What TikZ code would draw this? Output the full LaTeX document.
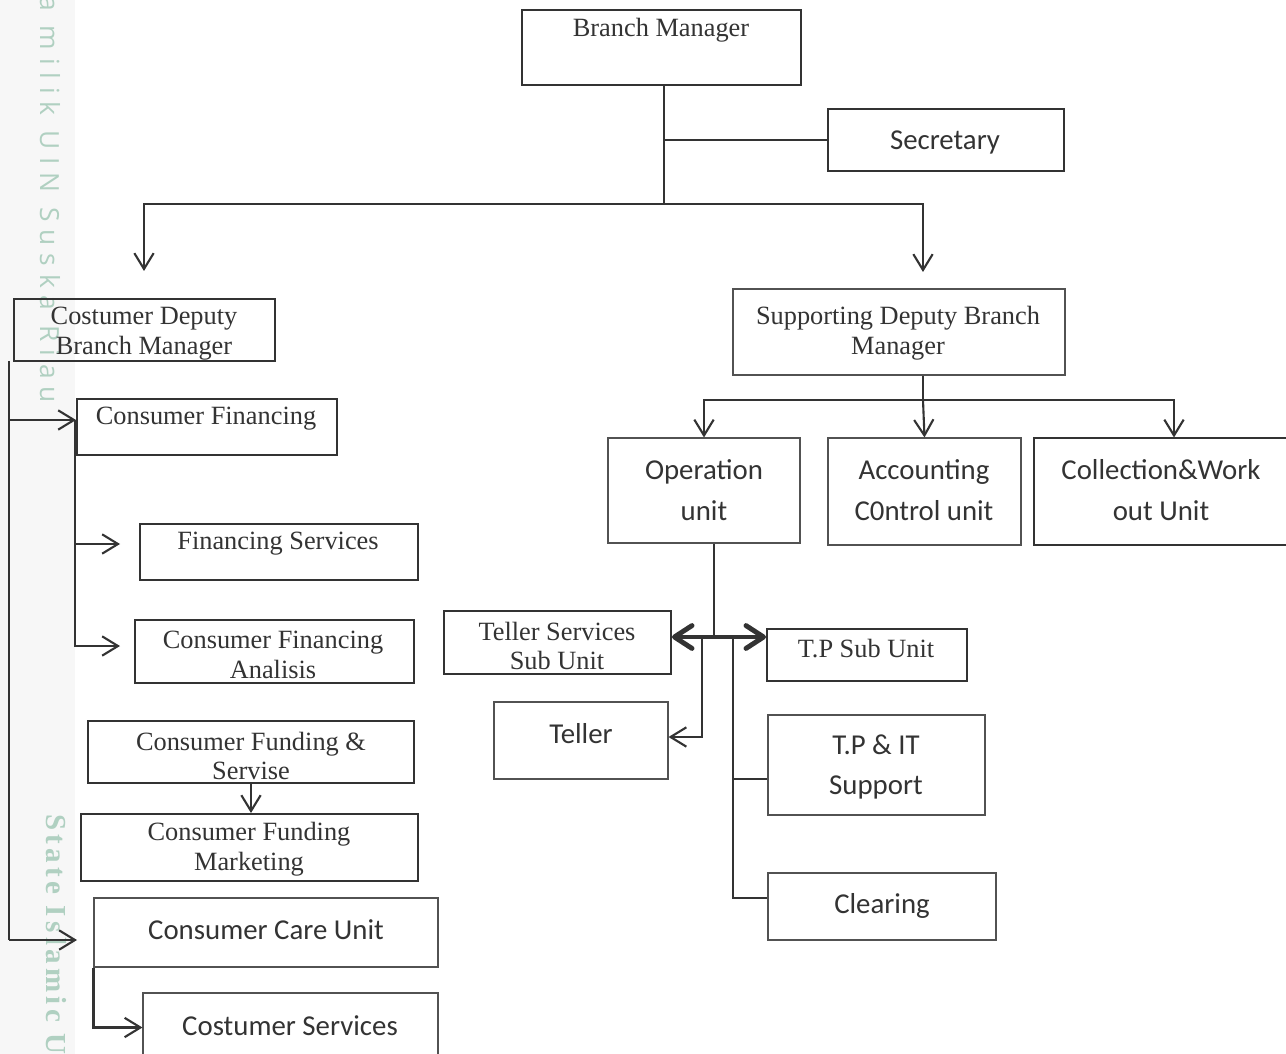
\documentclass[tikz,border=0pt]{standalone}
\usepackage{fontspec}
\setmainfont{Liberation Serif}
\newfontfamily\calibri{Carlito}
\newfontfamily\wmsans[LetterSpace=30]{Open Sans}
\newfontfamily\wmserif[LetterSpace=15]{Liberation Serif}
\usetikzlibrary{arrows.meta,fit}
\definecolor{ink}{HTML}{333333}
\definecolor{wmark}{RGB}{176,208,193}

\begin{document}
\begin{tikzpicture}[x=0.02cm,y=-0.02cm,
    box/.style={draw=ink,line width=1.1pt,inner sep=0pt},
    lbox/.style={draw=ink!85,line width=0.6pt,inner sep=0pt},
    tm/.style={text=ink,font=\fontsize{15}{17}\selectfont,align=center,inner sep=0pt,yshift=-1.7pt},
    cb/.style={text=ink,font=\calibri\fontsize{16.4}{23.2}\selectfont,align=center,inner sep=0pt,yshift=-1.7pt},
    conn/.style={draw=ink,line width=1.2pt},
    arr/.style={conn,-{Straight Barb[length=9pt,width=11pt]}},
    dbl/.style={draw=ink,line width=2.8pt,line cap=round,{Straight Barb[length=10pt,width=13pt,round]}-{Straight Barb[length=10pt,width=13pt,round]}}]
    \fill[white] (0,0) rectangle (1286,1054);
    \useasboundingbox (0,0) rectangle (1286,1054);

    % watermark along the left edge
    \fill[black!3] (0,0) rectangle (75,1054);
    \node[rotate=-90,anchor=west,text=wmark,font=\wmsans\fontsize{15}{17}\selectfont] (wm1) at (50,-10) {a milik UIN Suska Riau};
    \node[rotate=-90,anchor=west,text=wmark,font=\wmserif\fontsize{16.5}{18}\selectfont\bfseries] (wm2) at (56,808) {State Islamic U};

    % boxes
    \node[box,fit={(522,10) (801,85)}] (bm) {};
    \node[lbox,draw=ink,fit={(828,109) (1064,171)}] (sec) {};
    \node[box,fit={(14,299) (275,361)}] (cdbm) {};
    \node[lbox,fit={(733,289) (1065,375)}] (sdbm) {};
    \node[lbox,fit={(608,438) (800,543)}] (op) {};
    \node[lbox,fit={(828,438) (1021,545)}] (acc) {};
    \node[lbox,draw=ink,fit={(1034,438) (1314,545)}] (col) {};

    \node[box,fit={(77,399) (337,455)}] (cf) {};
    \node[box,fit={(140,524) (418,580)}] (fs) {};
    \node[box,fit={(135,620) (414,683)}] (cfa) {};
    \node[box,fit={(88,721) (414,783)}] (cfs) {};
    \node[box,fit={(81,814) (418,881)}] (cfm) {};
    \node[lbox,fit={(94,898) (438,967)}] (ccu) {};
    \node[lbox,fit={(143,993) (438,1062)}] (cs) {};

    \node[box,fit={(444,611) (671,674)}] (tss) {};
    \node[box,fit={(767,629) (967,681)}] (tpsu) {};
    \node[lbox,fit={(494,702) (668,779)}] (tel) {};
    \node[lbox,fit={(768,715) (985,815)}] (tpit) {};
    \node[lbox,fit={(768,873) (996,940)}] (clr) {};

    % labels
    \node[tm] (bm-t) at (661,27) {Branch Manager};
    \node[cb] (sec-t) at (945,139) {Secretary};
    \node[tm] (cdbm-t) at (144,331) {Costumer Deputy\\Branch Manager};
    \node[tm] (sdbm-t) at (898,330) {Supporting Deputy Branch\\Manager};
    \node[cb] (op-t) at (704,487) {Operation\\unit};
    \node[cb] (acc-t) at (924,487) {Accounting\\C0ntrol unit};
    \node[cb] (col-t) at (1161,487) {Collection\&Work\\out Unit};
    \node[tm] (cf-t) at (206,416) {Consumer Financing};
    \node[tm] (fs-t) at (278,541) {Financing Services};
    \node[tm] (cfa-t) at (273,652) {Consumer Financing\\Analisis};
    \node[tm] (cfs-t) at (251,753) {Consumer Funding \&\\Servise};
    \node[tm] (cfm-t) at (249,846) {Consumer Funding\\Marketing};
    \node[cb] (ccu-t) at (266,927) {Consumer Care Unit};
    \node[cb] (cs-t) at (290,1023) {Costumer Services};
    \node[tm] (tss-t) at (557,643) {Teller Services\\Sub Unit};
    \node[tm] (tpsu-t) at (866,646) {T.P Sub Unit};
    \node[cb] (tel-t) at (581,731) {Teller};
    \node[cb] (tpit-t) at (876,764) {T.P \& IT\\Support};
    \node[cb] (clr-t) at (882,903) {Clearing};

    % free ends and joints
    \coordinate (bmJ) at (664,204);
    \coordinate (bmL) at (144,271);
    \coordinate (bmR) at (923,272);
    \coordinate (spine) at (9,361);
    \coordinate (cfL) at (75,420);
    \coordinate (fsIn) at (120,544);
    \coordinate (cfaIn) at (120,646);
    \coordinate (ccuIn) at (77,940);
    \coordinate (opJ) at (714,637);
    \coordinate (telJ) at (702,637);
    \coordinate (tpJ) at (733,637);

    % top level
    \draw[conn] (bmJ |- bm.south) -- (bmJ);
    \draw[conn] (bmJ |- sec.west) -- (sec.west);
    \draw[arr] (bmJ) -| (bmL);
    \draw[arr] (bmJ) -| (bmR);

    % consumer side
    \draw[conn] (spine) -- (spine |- ccuIn);
    \draw[arr] (spine |- cfL) -- (cf.west |- cfL);
    \draw[arr] (spine |- ccuIn) -- (ccuIn);
    \draw[arr] (cfL) |- (fsIn);
    \draw[arr] (cfL) |- (cfaIn);
    \draw[arr] (cfs.south) -- (cfs.south |- cfm.north);
    \draw[arr] (ccu.south west) |- (cs.west);

    % supporting side
    \draw[conn] (sdbm.south -| bmR) -- (bmR |- 0,400);
    \draw[arr] (bmR |- 0,400) -| (op.north);
    \draw[arr] (bmR |- 0,400) -- (acc.north |- op.north);
    \draw[arr] (bmR |- 0,400) -| (col.north);

    % operation unit
    \draw[conn] (opJ |- op.south) -- (opJ);
    \draw[dbl] (tss.east |- opJ) -- (tpsu.west |- opJ);
    \draw[arr] (telJ) |- (tel.east |- 0,737);
    \draw[conn] (tpJ) -- (tpJ |- 0,898) -- (clr.west |- 0,898);
    \draw[conn] (tpJ |- 0,779) -- (tpit.west |- 0,779);
  \end{tikzpicture}
\end{document}
